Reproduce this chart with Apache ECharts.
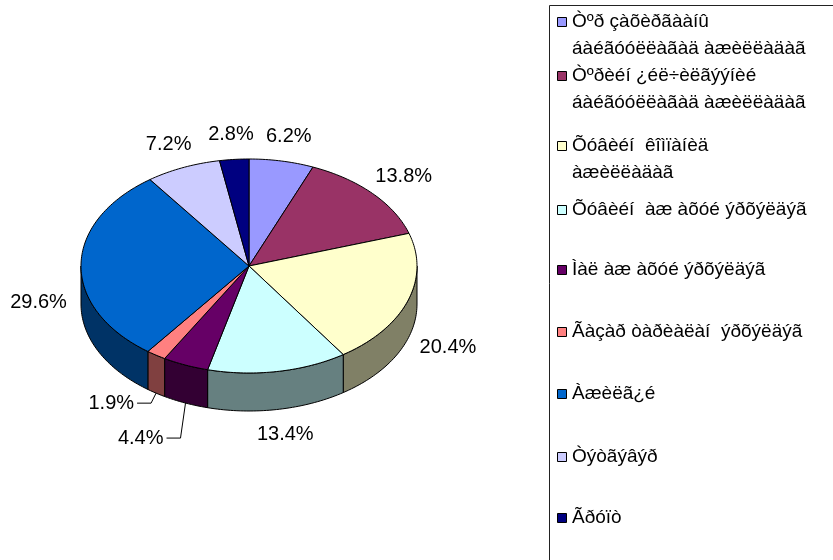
<!DOCTYPE html>
<html>
<head>
<meta charset="utf-8">
<script src="https://cdn.jsdelivr.net/npm/echarts@6/dist/echarts.min.js"></script>
<style>
html, body { margin: 0; padding: 0; background: #fff; }
#chart { width: 833px; height: 560px; }
</style>
</head>
<body>
<div id="chart"></div>
<script>
// data
var categories = [
    'Òºð çàõèðãààíû\náàéãóóëëàãàä àæèëëàäàã',
    'Òºðèéí ¿éë÷èëãýýíèé\náàéãóóëëàãàä àæèëëàäàã',
    'Õóâèéí  êîìïàíèä\nàæèëëàäàã',
    'Õóâèéí  àæ àõóé ýðõýëäýã',
    'Ìàë àæ àõóé ýðõýëäýã',
    'Ãàçàð òàðèàëàí  ýðõýëäýã',
    'Àæèëã¿é',
    'Òýòãýâýð',
    'Ãðóïò'
];
var shares = [6.2, 13.8, 20.4, 13.4, 4.4, 1.9, 29.6, 7.2, 2.8];
var topColors = ['#9999FF', '#993366', '#FFFFCC', '#CCFFFF', '#660066', '#FF8080', '#0066CC', '#CCCCFF', '#000080'];
var sideColors = ['#4D4D80', '#4D1A33', '#808066', '#668080', '#330033', '#804040', '#003366', '#666680', '#000040'];

// layout of the tilted pie
var CX = 249, CY = 266, RX = 168, RY = 107, DEPTH = 38;
// small slices get a leader line, dropped by this many px
var leaderDrop = { 4: 35, 5: 10 };
// first-line centre of every legend row
var legendRows = [22, 76, 146, 210, 270, 332, 394, 457, 518];

var FONT = '"Liberation Sans", Arial, sans-serif';

var total = shares.reduce(function (a, b) { return a + b; }, 0);
var starts = [];
var acc = 0;
shares.forEach(function (v) {
    starts.push(acc / total * Math.PI * 2);
    acc += v;
});

function pt(t, dy) {
    return [CX + RX * Math.sin(t), CY - RY * Math.cos(t) + (dy || 0)];
}

function arc(a, b, dy) {
    var n = Math.max(2, Math.ceil((b - a) / 0.02));
    var pts = [];
    for (var i = 0; i <= n; i++) {
        pts.push(pt(a + (b - a) * i / n, dy));
    }
    return pts;
}

function renderSlice(params, api) {
    var i = params.dataIndex;
    var a = starts[i];
    var b = a + api.value(0) / total * Math.PI * 2;
    var children = [];

    // front wall
    var s = Math.max(a, Math.PI / 2), e = Math.min(b, Math.PI * 1.5);
    if (s < e) {
        children.push({
            type: 'polygon',
            shape: { points: arc(s, e, 0).concat(arc(s, e, DEPTH).reverse()) },
            style: { fill: sideColors[i], stroke: '#000', lineWidth: 1 }
        });
    }

    // top face
    children.push({
        type: 'polygon',
        shape: { points: [[CX, CY]].concat(arc(a, b, 0)) },
        style: { fill: topColors[i], stroke: '#000', lineWidth: 1 }
    });

    // label
    var m = (a + b) / 2;
    var text = api.value(0).toFixed(1) + '%';
    var base = pt(m, Math.cos(m) < 0.1 ? DEPTH : 0);
    if (leaderDrop[i] != null) {
        var p1 = [base[0] - 5, base[1] + leaderDrop[i]];
        var p2 = [p1[0] - 14, p1[1]];
        children.push({
            type: 'polyline',
            shape: { points: [base, p1, p2] },
            style: { stroke: '#000', lineWidth: 1, fill: null }
        });
        children.push({
            type: 'text',
            style: {
                text: text, x: p2[0] - 3, y: p2[1],
                align: 'right', verticalAlign: 'middle',
                fontSize: 20, fontFamily: FONT, fill: '#000'
            }
        });
    } else {
        var hw = text.length * 5.7, hh = 11, g = 14;
        children.push({
            type: 'text',
            style: {
                text: text,
                x: base[0] + Math.sin(m) * (hw + g),
                y: base[1] - Math.cos(m) * (hh + g),
                align: 'center', verticalAlign: 'middle',
                fontSize: 20, fontFamily: FONT, fill: '#000'
            }
        });
    }

    return { type: 'group', children: children };
}

// legend box drawn as graphics
var legendGraphics = [{
    type: 'rect',
    shape: { x: 549.5, y: 5.5, width: 320, height: 600 },
    style: { fill: '#fff', stroke: '#222', lineWidth: 1 }
}];
categories.forEach(function (name, i) {
    legendGraphics.push({
        type: 'rect',
        shape: { x: 557.5, y: legendRows[i] - 4.5, width: 9, height: 9 },
        style: { fill: topColors[i], stroke: '#000', lineWidth: 1 }
    });
    legendGraphics.push({
        type: 'text',
        x: 572,
        y: legendRows[i] - 13.5,
        style: {
            text: name, fontSize: 19, fontFamily: FONT, fill: '#000',
            lineHeight: 27, verticalAlign: 'top', align: 'left'
        }
    });
});

var chart = echarts.init(document.getElementById('chart'));
chart.setOption({
    animation: false,
    backgroundColor: '#fff',
    graphic: legendGraphics,
    series: [{
        type: 'custom',
        coordinateSystem: 'none',
        renderItem: renderSlice,
        data: shares.map(function (v, i) { return { name: categories[i], value: [v] }; })
    }]
});
</script>
</body>
</html>
